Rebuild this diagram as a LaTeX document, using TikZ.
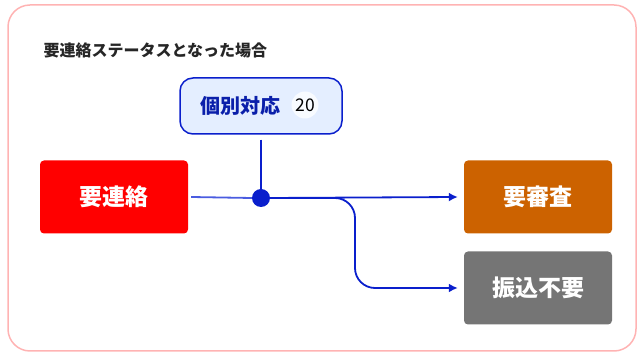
\documentclass[tikz,border=0pt]{standalone}
\usepackage{fontspec}
\setmainfont{Noto Sans CJK JP}
\usetikzlibrary{arrows.meta}
\definecolor{framec}{HTML}{FFB3B3}
\definecolor{lineblue}{HTML}{0A1FCC}
\definecolor{lightline}{HTML}{4A5CE0}
\definecolor{notefill}{HTML}{E4EEFF}
\definecolor{notetext}{HTML}{0A1FAA}
\definecolor{redbox}{HTML}{FF0000}
\definecolor{orangebox}{HTML}{CC6200}
\definecolor{graybox}{HTML}{757575}
\tikzset{
  statebox/.style={rounded corners=4pt, minimum width=148pt, minimum height=73pt, text=white, font=\fontsize{23}{26}\selectfont\bfseries, inner sep=0pt},
  flow/.style={draw=lineblue, line width=1.8pt, -{Latex[length=9pt,width=9pt]}},
}
\begin{document}
\begin{tikzpicture}[x=1pt,y=-1pt]
\useasboundingbox (0,0) rectangle (641,355);
\draw[framec, line width=1.5pt, rounded corners=22pt] (8,5) rectangle (636,351);
\node[anchor=west, font=\fontsize{16}{18}\selectfont\bfseries, text=black!85] (title) at (40,50) {要連絡ステータスとなった場合};
\node[statebox, fill=redbox] (src) at (114,197) {要連絡};
\node[statebox, fill=orangebox] (rev) at (538,197) {要審査};
\node[statebox, fill=graybox] (none) at (538,288) {振込不要};
\node[draw=lineblue, line width=1.5pt, fill=notefill, rounded corners=13pt, minimum width=162pt, minimum height=56pt, inner sep=0pt] (note) at (261,106) {};
\node[font=\fontsize{20}{22}\selectfont\bfseries, text=notetext, anchor=east, inner sep=0pt] (notelabel) at (281,106) {個別対応};
\node[circle, fill=white!75!notefill, minimum size=27pt, inner sep=0pt, font=\fontsize{17.5}{20}\selectfont, text=black] (count) at (305,105) {20};
\node[circle, fill=lineblue, minimum size=18pt, inner sep=0pt] (dot) at (261,198) {};
\coordinate (split) at (355,198);
\draw[lineblue, line width=1.8pt] (note.south) ++(0,5) -- (dot.north);
\draw[lightline, line width=1.8pt] (src.east) ++(3,0) -- (dot.west);
\draw[flow] (dot.east) -- ([xshift=-6pt]rev.west);
\draw[flow, rounded corners=20pt] (dot.east) -- (split) -- (split |- none.west) -- ([xshift=-6pt]none.west);
\end{tikzpicture}
\end{document}
